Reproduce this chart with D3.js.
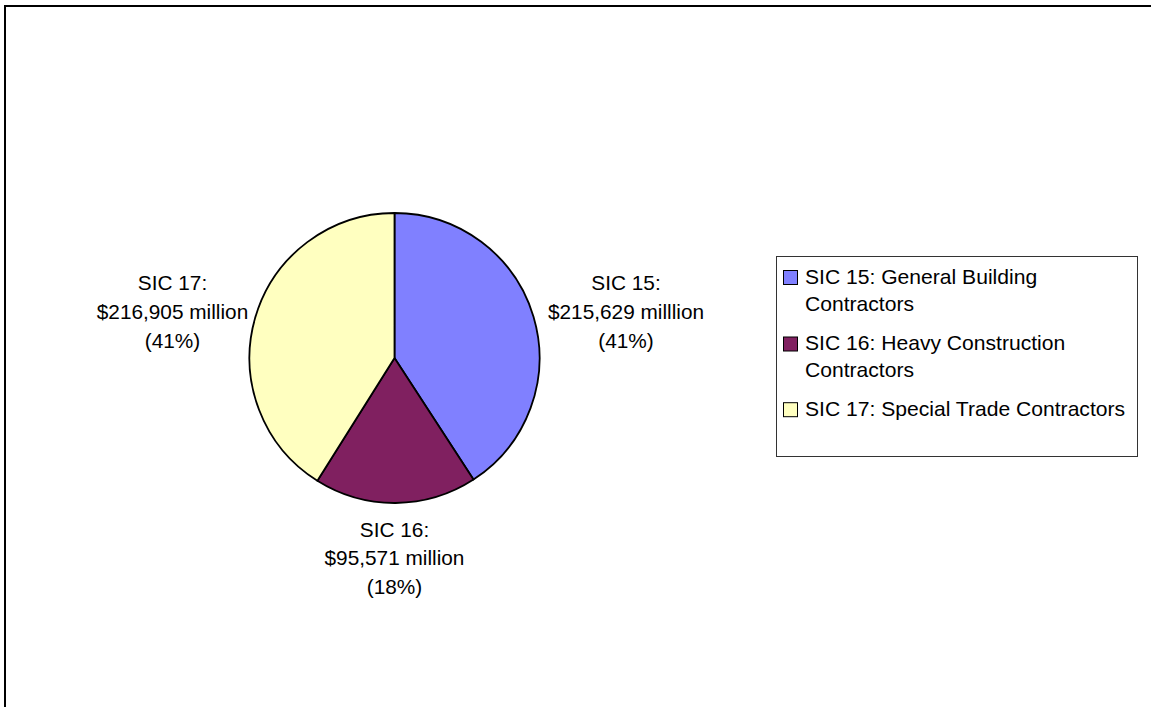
<!DOCTYPE html>
<html>
<head>
<meta charset="utf-8">
<script src="https://cdn.jsdelivr.net/npm/d3@7"></script>
<style>
  html, body { margin: 0; padding: 0; background: #fff; }
  svg { display: block; }
  text { font-family: "Liberation Sans", Arial, sans-serif; fill: #000; }
</style>
</head>
<body>
<svg id="chart" width="1151" height="707"></svg>
<script>
const categories = ["SIC 15", "SIC 16", "SIC 17"];
const values = [215629, 95571, 216905];
const legendLines = [
  ["SIC 15: General Building", "Contractors"],
  ["SIC 16: Heavy Construction", "Contractors"],
  ["SIC 17: Special Trade Contractors"]
];
const dataLabels = [
  ["SIC 15:", "$215,629 milllion", "(41%)"],
  ["SIC 16:", "$95,571 million", "(18%)"],
  ["SIC 17:", "$216,905 million", "(41%)"]
];
const colors = ["#8080FF", "#802060", "#FFFFC0"];

const svg = d3.select("#chart");
const W = 1151, H = 707;

// outer frame (right/bottom edges run off the canvas)
svg.append("rect")
  .attr("x", 5).attr("y", 6)
  .attr("width", W + 10).attr("height", H + 10)
  .attr("fill", "#fff").attr("stroke", "#000").attr("stroke-width", 2);

const cx = 394.5, cy = 358, r = 145;
const color = d3.scaleOrdinal().domain(categories).range(colors);

const pie = d3.pie().sort(null).value(d => d.value);
const arcs = pie(categories.map((c, i) => ({ cat: c, value: values[i], i })));
const arc = d3.arc().innerRadius(0).outerRadius(r);

const g = svg.append("g").attr("transform", `translate(${cx},${cy})`);
g.selectAll("path").data(arcs).enter().append("path")
  .attr("d", arc)
  .attr("fill", d => color(d.data.cat))
  .attr("stroke", "#000")
  .attr("stroke-width", 1.8)
  .attr("stroke-linejoin", "round");

// data labels (positions relative to pie centre)
const labelPos = [
  { dx: 231.5, y: 290 },
  { dx: 0, y: 536.5 },
  { dx: -222, y: 290 }
];
const lblSize = 20.8, lblLH = 28.8;
dataLabels.forEach((lines, i) => {
  const t = svg.append("text")
    .attr("text-anchor", "middle")
    .attr("font-size", lblSize + "px");
  lines.forEach((ln, j) => {
    t.append("tspan")
      .attr("x", cx + labelPos[i].dx)
      .attr("y", labelPos[i].y + j * lblLH)
      .text(ln);
  });
});

// legend
const lg = svg.append("g");
lg.append("rect")
  .attr("x", 776.5).attr("y", 256.5)
  .attr("width", 361).attr("height", 200)
  .attr("fill", "#fff").attr("stroke", "#333").attr("stroke-width", 1);

const legBase = [283.5, 350, 415.7];
const legSize = 21.1, legLH = 27.2;
categories.forEach((c, i) => {
  lg.append("rect")
    .attr("x", 783.5).attr("y", legBase[i] - 13)
    .attr("width", 14).attr("height", 14)
    .attr("fill", color(c)).attr("stroke", "#000").attr("stroke-width", 1);
  const t = lg.append("text").attr("font-size", legSize + "px");
  legendLines[i].forEach((ln, j) => {
    t.append("tspan").attr("x", 805).attr("y", legBase[i] + j * legLH).text(ln);
  });
});
</script>
</body>
</html>
